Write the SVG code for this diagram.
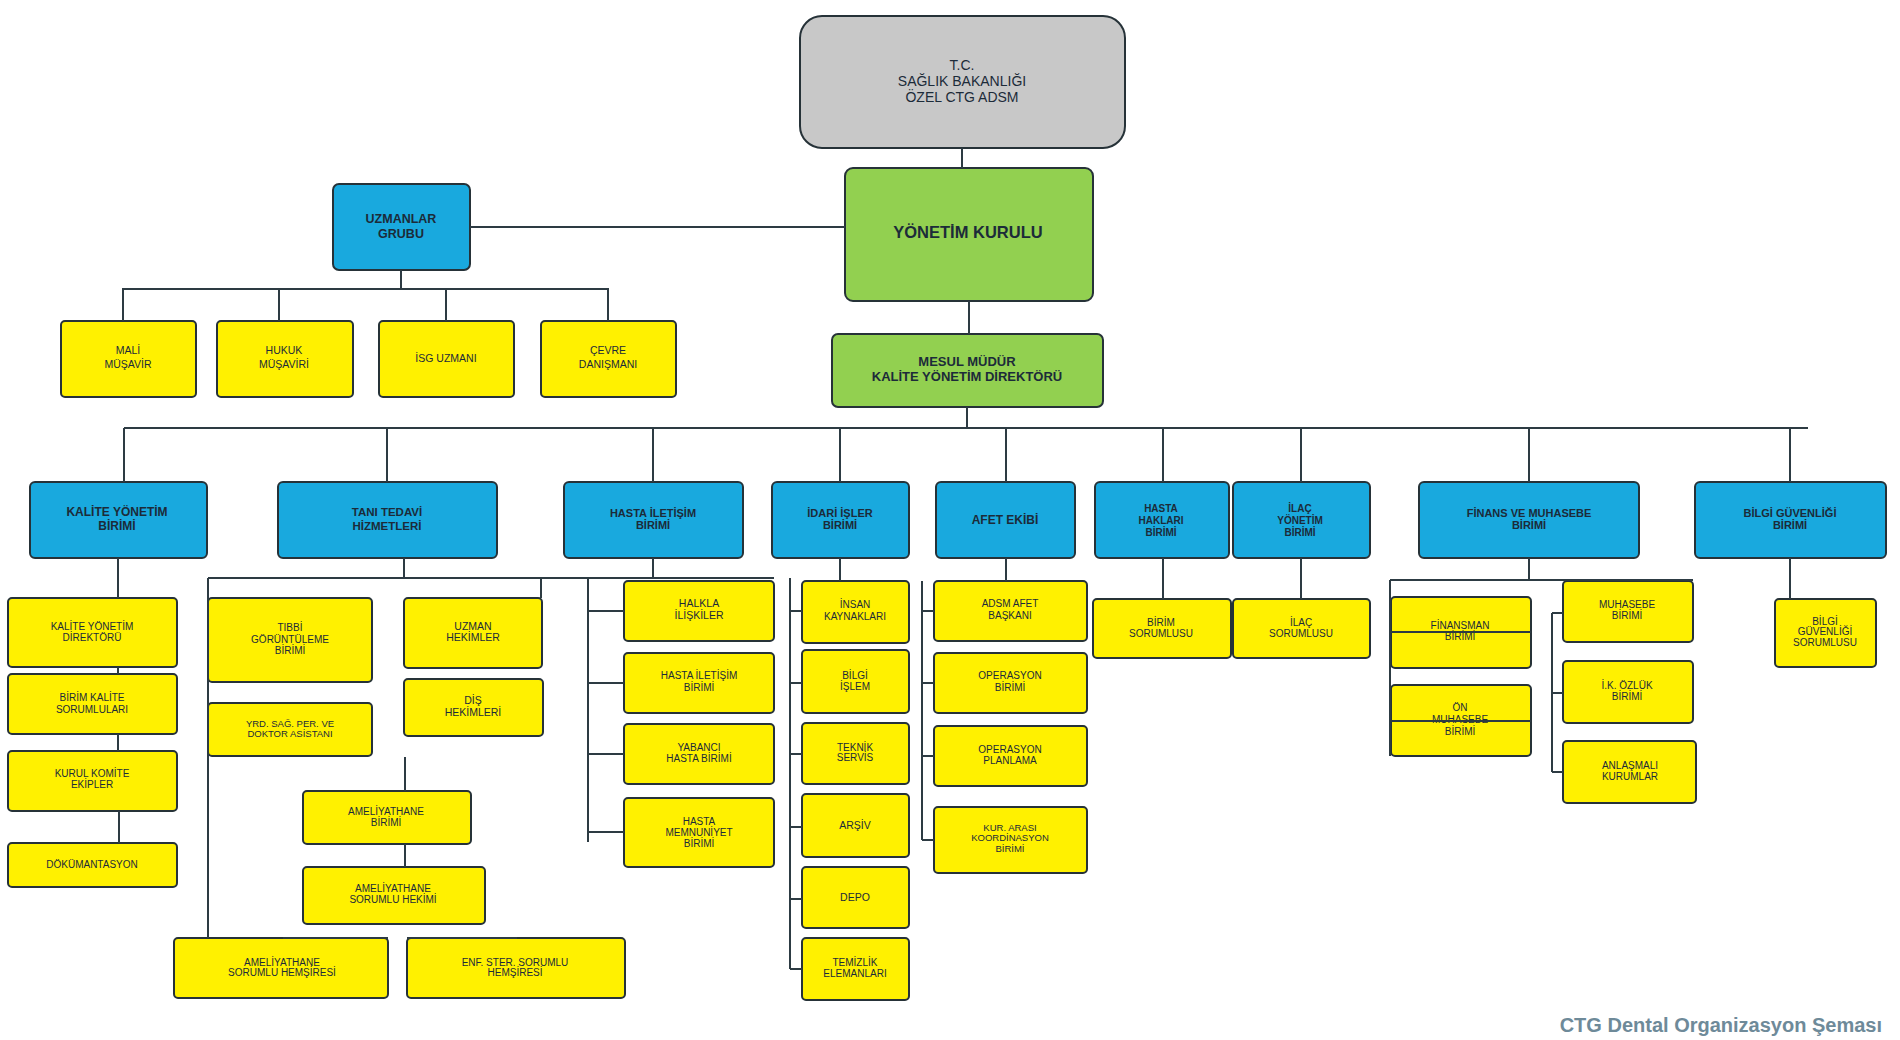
<svg xmlns="http://www.w3.org/2000/svg" width="1900" height="1040" viewBox="0 0 1900 1040">
<style>
g rect{stroke:#263238;stroke-width:2}
.gr{fill:#C8C8C8}
.g{fill:#92D050}
.b{fill:#19A9DE}
.y{fill:#FFF100}
text{font-family:"Liberation Sans",Arial,sans-serif;text-anchor:middle;fill:#1c2b39}
.bd{font-weight:bold}
.f10{font-size:10px}
.f105{font-size:10.5px}
.f95{font-size:9.5px}
.f11{font-size:11px}
.f115{font-size:11.5px}
.f12{font-size:12px}
.f125{font-size:12.5px}
.f13{font-size:13px}
.f14{font-size:14px}
.f165{font-size:16.5px}
#connectors path{fill:none;stroke:#2d3b43;stroke-width:2}
.title{font-size:20px;font-weight:bold;fill:#6E8A99;text-anchor:end}
</style>
<rect x="0" y="0" width="1900" height="1040" fill="#ffffff"/>

<g id="tc"><rect class="gr" x="800" y="16" width="325" height="132" rx="22"/>
<text class="f14"><tspan x="962" y="70">T.C.</tspan><tspan x="962" y="86">SAĞLIK BAKANLIĞI</tspan><tspan x="962" y="102">ÖZEL CTG ADSM</tspan></text></g>

<g id="yonetim-kurulu"><rect class="g" x="845" y="168" width="248" height="133" rx="8"/>
<text class="f165 bd"><tspan x="968" y="238">YÖNETİM KURULU</tspan></text></g>

<g id="uzmanlar-grubu"><rect class="b" x="333" y="184" width="137" height="86" rx="6"/>
<text class="f125 bd"><tspan x="401" y="222.5">UZMANLAR</tspan><tspan x="401" y="237.5">GRUBU</tspan></text></g>

<g id="mali-musavir"><rect class="y" x="61" y="321" width="135" height="76" rx="4"/>
<text class="f105"><tspan x="128" y="354">MALİ</tspan><tspan x="128" y="368">MÜŞAVİR</tspan></text></g>
<g id="hukuk-musaviri"><rect class="y" x="217" y="321" width="136" height="76" rx="4"/>
<text class="f105"><tspan x="284" y="354">HUKUK</tspan><tspan x="284" y="368">MÜŞAVİRİ</tspan></text></g>
<g id="isg-uzmani"><rect class="y" x="379" y="321" width="135" height="76" rx="4"/>
<text class="f105"><tspan x="446" y="362">İSG UZMANI</tspan></text></g>
<g id="cevre-danismani"><rect class="y" x="541" y="321" width="135" height="76" rx="4"/>
<text class="f105"><tspan x="608" y="354">ÇEVRE</tspan><tspan x="608" y="368">DANIŞMANI</tspan></text></g>

<g id="mesul-mudur"><rect class="g" x="832" y="334" width="271" height="73" rx="6"/>
<text class="f13 bd"><tspan x="967" y="365.5">MESUL MÜDÜR</tspan><tspan x="967" y="380.5">KALİTE YÖNETİM DİREKTÖRÜ</tspan></text></g>

<g id="kalite-yonetim-birimi"><rect class="b" x="30" y="482" width="177" height="76" rx="5"/>
<text class="f12 bd"><tspan x="117" y="516">KALİTE YÖNETİM</tspan><tspan x="117" y="530">BİRİMİ</tspan></text></g>
<g id="tani-tedavi"><rect class="b" x="278" y="482" width="219" height="76" rx="5"/>
<text class="f115 bd"><tspan x="387" y="516">TANI TEDAVİ</tspan><tspan x="387" y="530">HİZMETLERİ</tspan></text></g>
<g id="hasta-iletisim"><rect class="b" x="564" y="482" width="179" height="76" rx="5"/>
<text class="f11 bd"><tspan x="653" y="517">HASTA İLETİŞİM</tspan><tspan x="653" y="529">BİRİMİ</tspan></text></g>
<g id="idari-isler"><rect class="b" x="772" y="482" width="137" height="76" rx="5"/>
<text class="f11 bd"><tspan x="840" y="517">İDARİ İŞLER</tspan><tspan x="840" y="529">BİRİMİ</tspan></text></g>
<g id="afet-ekibi"><rect class="b" x="936" y="482" width="139" height="76" rx="5"/>
<text class="f12 bd"><tspan x="1005" y="524">AFET EKİBİ</tspan></text></g>
<g id="hasta-haklari"><rect class="b" x="1095" y="482" width="134" height="76" rx="5"/>
<text class="f10 bd"><tspan x="1161" y="511.5">HASTA</tspan><tspan x="1161" y="523.5">HAKLARI</tspan><tspan x="1161" y="535.5">BİRİMİ</tspan></text></g>
<g id="ilac-yonetim"><rect class="b" x="1233" y="482" width="137" height="76" rx="5"/>
<text class="f10 bd"><tspan x="1300" y="511.5">İLAÇ</tspan><tspan x="1300" y="523.5">YÖNETİM</tspan><tspan x="1300" y="535.5">BİRİMİ</tspan></text></g>
<g id="finans-muhasebe"><rect class="b" x="1419" y="482" width="220" height="76" rx="5"/>
<text class="f11 bd"><tspan x="1529" y="517">FİNANS VE MUHASEBE</tspan><tspan x="1529" y="529">BİRİMİ</tspan></text></g>
<g id="bilgi-guvenligi"><rect class="b" x="1695" y="482" width="191" height="76" rx="5"/>
<text class="f11 bd"><tspan x="1790" y="517">BİLGİ GÜVENLİĞİ</tspan><tspan x="1790" y="529">BİRİMİ</tspan></text></g>

<g id="kalite-yonetim-direktoru"><rect class="y" x="8" y="598" width="169" height="69" rx="4"/>
<text class="f10"><tspan x="92" y="629.5">KALİTE YÖNETİM</tspan><tspan x="92" y="640.5">DİREKTÖRÜ</tspan></text></g>
<g id="birim-kalite-sorumlulari"><rect class="y" x="8" y="674" width="169" height="60" rx="4"/>
<text class="f10"><tspan x="92" y="700.5">BİRİM KALİTE</tspan><tspan x="92" y="712.5">SORUMLULARI</tspan></text></g>
<g id="kurul-komite"><rect class="y" x="8" y="751" width="169" height="60" rx="4"/>
<text class="f10"><tspan x="92" y="776.5">KURUL KOMİTE</tspan><tspan x="92" y="787.5">EKİPLER</tspan></text></g>
<g id="dokumantasyon"><rect class="y" x="8" y="843" width="169" height="44" rx="4"/>
<text class="f10"><tspan x="92" y="867.5">DÖKÜMANTASYON</tspan></text></g>

<g id="tibbi-goruntuleme"><rect class="y" x="208" y="598" width="164" height="84" rx="4"/>
<text class="f10"><tspan x="290" y="630.5">TIBBİ</tspan><tspan x="290" y="642.5">GÖRÜNTÜLEME</tspan><tspan x="290" y="653.5">BİRİMİ</tspan></text></g>
<g id="uzman-hekimler"><rect class="y" x="404" y="598" width="138" height="70" rx="4"/>
<text class="f105"><tspan x="473" y="629.5">UZMAN</tspan><tspan x="473" y="640.5">HEKİMLER</tspan></text></g>
<g id="dis-hekimleri"><rect class="y" x="404" y="679" width="139" height="57" rx="4"/>
<text class="f105"><tspan x="473" y="703.5">DİŞ</tspan><tspan x="473" y="715.5">HEKİMLERİ</tspan></text></g>
<g id="yrd-sag-per"><rect class="y" x="208" y="703" width="164" height="53" rx="4"/>
<text class="f95"><tspan x="290" y="726.5">YRD. SAĞ. PER. VE</tspan><tspan x="290" y="736.5">DOKTOR ASİSTANI</tspan></text></g>
<g id="ameliyathane-birimi"><rect class="y" x="303" y="791" width="168" height="53" rx="4"/>
<text class="f10"><tspan x="386" y="814.5">AMELİYATHANE</tspan><tspan x="386" y="825.5">BİRİMİ</tspan></text></g>
<g id="ameliyathane-hekimi"><rect class="y" x="303" y="867" width="182" height="57" rx="4"/>
<text class="f10"><tspan x="393" y="891.5">AMELİYATHANE</tspan><tspan x="393" y="902.5">SORUMLU HEKİMİ</tspan></text></g>
<g id="ameliyathane-hemsiresi"><rect class="y" x="174" y="938" width="214" height="60" rx="4"/>
<text class="f10"><tspan x="282" y="965.5">AMELİYATHANE</tspan><tspan x="282" y="975.5">SORUMLU HEMŞİRESİ</tspan></text></g>
<g id="enf-ster-hemsiresi"><rect class="y" x="407" y="938" width="218" height="60" rx="4"/>
<text class="f10"><tspan x="515" y="965.5">ENF. STER. SORUMLU</tspan><tspan x="515" y="975.5">HEMŞİRESİ</tspan></text></g>

<g id="halkla-iliskiler"><rect class="y" x="624" y="581" width="150" height="60" rx="4"/>
<text class="f105"><tspan x="699" y="606.5">HALKLA</tspan><tspan x="699" y="618.5">İLİŞKİLER</tspan></text></g>
<g id="hasta-iletisim-birimi"><rect class="y" x="624" y="653" width="150" height="60" rx="4"/>
<text class="f10"><tspan x="699" y="678.5">HASTA İLETİŞİM</tspan><tspan x="699" y="690.5">BİRİMİ</tspan></text></g>
<g id="yabanci-hasta"><rect class="y" x="624" y="724" width="150" height="60" rx="4"/>
<text class="f10"><tspan x="699" y="750.5">YABANCI</tspan><tspan x="699" y="761.5">HASTA BİRİMİ</tspan></text></g>
<g id="hasta-memnuniyet"><rect class="y" x="624" y="798" width="150" height="69" rx="4"/>
<text class="f10"><tspan x="699" y="824.5">HASTA</tspan><tspan x="699" y="835.5">MEMNUNİYET</tspan><tspan x="699" y="846.5">BİRİMİ</tspan></text></g>

<g id="insan-kaynaklari"><rect class="y" x="802" y="581" width="107" height="62" rx="4"/>
<text class="f10"><tspan x="855" y="607.5">İNSAN</tspan><tspan x="855" y="619.5">KAYNAKLARI</tspan></text></g>
<g id="bilgi-islem"><rect class="y" x="802" y="650" width="107" height="63" rx="4"/>
<text class="f10"><tspan x="855" y="678.5">BİLGİ</tspan><tspan x="855" y="689.5">İŞLEM</tspan></text></g>
<g id="teknik-servis"><rect class="y" x="802" y="723" width="107" height="61" rx="4"/>
<text class="f10"><tspan x="855" y="750.5">TEKNİK</tspan><tspan x="855" y="760.5">SERVİS</tspan></text></g>
<g id="arsiv"><rect class="y" x="802" y="794" width="107" height="63" rx="4"/>
<text class="f105"><tspan x="855" y="828.5">ARŞİV</tspan></text></g>
<g id="depo"><rect class="y" x="802" y="867" width="107" height="61" rx="4"/>
<text class="f105"><tspan x="855" y="900.5">DEPO</tspan></text></g>
<g id="temizlik"><rect class="y" x="802" y="938" width="107" height="62" rx="4"/>
<text class="f10"><tspan x="855" y="965.5">TEMİZLİK</tspan><tspan x="855" y="976.5">ELEMANLARI</tspan></text></g>

<g id="adsm-afet-baskani"><rect class="y" x="934" y="581" width="153" height="60" rx="4"/>
<text class="f10"><tspan x="1010" y="606.5">ADSM AFET</tspan><tspan x="1010" y="618.5">BAŞKANI</tspan></text></g>
<g id="operasyon-birimi"><rect class="y" x="934" y="653" width="153" height="60" rx="4"/>
<text class="f10"><tspan x="1010" y="678.5">OPERASYON</tspan><tspan x="1010" y="690.5">BİRİMİ</tspan></text></g>
<g id="operasyon-planlama"><rect class="y" x="934" y="726" width="153" height="60" rx="4"/>
<text class="f10"><tspan x="1010" y="752.5">OPERASYON</tspan><tspan x="1010" y="763.5">PLANLAMA</tspan></text></g>
<g id="kur-arasi"><rect class="y" x="934" y="807" width="153" height="66" rx="4"/>
<text class="f95"><tspan x="1010" y="830.5">KUR. ARASI</tspan><tspan x="1010" y="840.5">KOORDİNASYON</tspan><tspan x="1010" y="851.5">BİRİMİ</tspan></text></g>

<g id="birim-sorumlusu"><rect class="y" x="1093" y="599" width="138" height="59" rx="4"/>
<text class="f10"><tspan x="1161" y="625.5">BİRİM</tspan><tspan x="1161" y="636.5">SORUMLUSU</tspan></text></g>
<g id="ilac-sorumlusu"><rect class="y" x="1233" y="599" width="137" height="59" rx="4"/>
<text class="f10"><tspan x="1301" y="625.5">İLAÇ</tspan><tspan x="1301" y="636.5">SORUMLUSU</tspan></text></g>

<g id="finansman-birimi"><rect class="y" x="1391" y="597" width="140" height="71" rx="4"/>
<text class="f10"><tspan x="1460" y="628.5">FİNANSMAN</tspan><tspan x="1460" y="639.5">BİRİMİ</tspan></text></g>
<g id="on-muhasebe"><rect class="y" x="1391" y="685" width="140" height="71" rx="4"/>
<text class="f10"><tspan x="1460" y="710.5">ÖN</tspan><tspan x="1460" y="722.5">MUHASEBE</tspan><tspan x="1460" y="734.5">BİRİMİ</tspan></text></g>
<g id="muhasebe-birimi"><rect class="y" x="1563" y="581" width="130" height="61" rx="4"/>
<text class="f10"><tspan x="1627" y="607.5">MUHASEBE</tspan><tspan x="1627" y="618.5">BİRİMİ</tspan></text></g>
<g id="ik-ozluk"><rect class="y" x="1563" y="661" width="130" height="62" rx="4"/>
<text class="f10"><tspan x="1627" y="688.5">İ.K. ÖZLÜK</tspan><tspan x="1627" y="699.5">BİRİMİ</tspan></text></g>
<g id="anlasmali-kurumlar"><rect class="y" x="1563" y="741" width="133" height="62" rx="4"/>
<text class="f10"><tspan x="1630" y="768.5">ANLAŞMALI</tspan><tspan x="1630" y="779.5">KURUMLAR</tspan></text></g>

<g id="bilgi-guvenligi-sorumlusu"><rect class="y" x="1775" y="599" width="101" height="68" rx="4"/>
<text class="f10"><tspan x="1825" y="624.5">BİLGİ</tspan><tspan x="1825" y="634.5">GÜVENLİĞİ</tspan><tspan x="1825" y="645.5">SORUMLUSU</tspan></text></g>

<g id="connectors">
<path d="M962,148V168M470,227H845M969,301V334"/>
<path d="M401,270V289M123,321V289H608V321M279,289V321M446,289V321"/>
<path d="M967,407V428M124,428H1808M124,428V482M387,428V482M653,428V482M840,428V482M1006,428V482M1163,428V482M1301,428V482M1529,428V482M1790,428V482"/>
<path d="M118,558V598M118,667V674M118,734V751M119,811V843"/>
<path d="M404,558V578M208,578H774M208,578V938M541,578V598M405,757V791M405,844V867M283,938H388M407,938H517"/>
<path d="M653,558V578M588,578V842M588,611H624M588,683H624M588,754H624M588,832H624"/>
<path d="M840,558V581M790,578V969M790,611H802M790,683H802M790,754H802M790,827H802M790,899H802M790,969H802"/>
<path d="M1006,558V581M922,581V840M922,611H934M922,683H934M922,756H934M922,840H934"/>
<path d="M1163,558V599M1301,558V599"/>
<path d="M1529,558V580M1390,580H1693M1390,580V756M1391,632H1531M1391,721H1531M1552,613V772M1552,613H1563M1552,693H1563M1552,772H1563"/>
<path d="M1790,558V599"/>
</g>

<text class="title" x="1882" y="1032">CTG Dental Organizasyon Şeması</text>
</svg>
